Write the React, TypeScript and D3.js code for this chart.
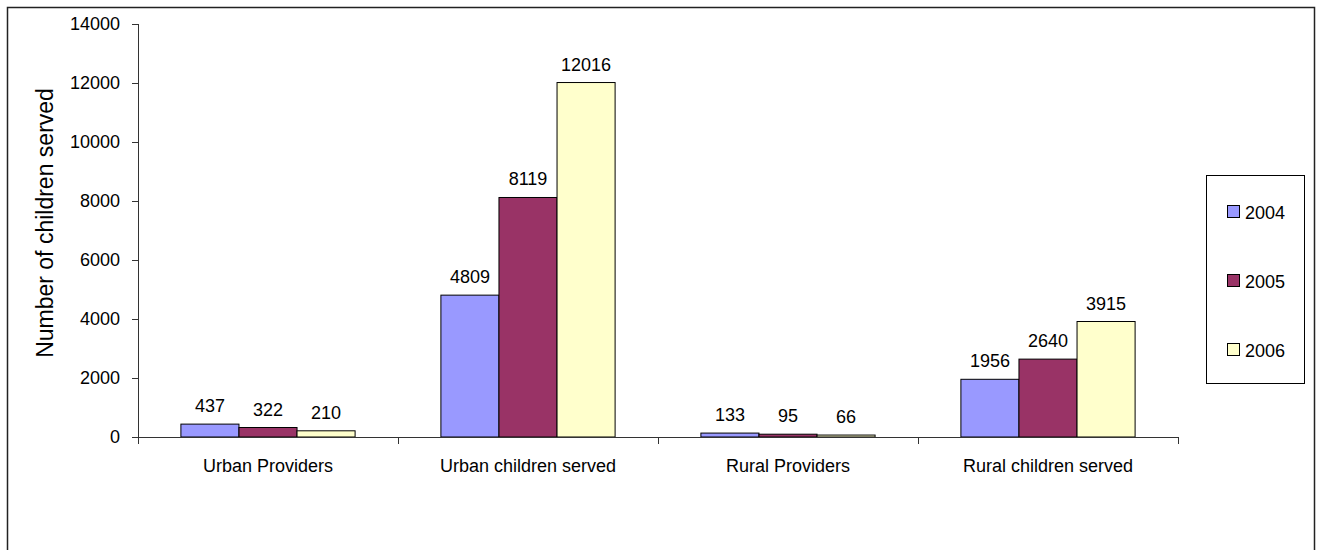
import React from "react";
import * as d3 from "d3";

const categories = ["Urban Providers", "Urban children served", "Rural Providers", "Rural children served"];
const years = ["2004", "2005", "2006"];
const values2004 = [437, 4809, 133, 1956];
const values2005 = [322, 8119, 95, 2640];
const values2006 = [210, 12016, 66, 3915];
const yTicks = [0, 2000, 4000, 6000, 8000, 10000, 12000, 14000];
const yearColors = ["#9999FF", "#993366", "#FFFFCC"];

const seriesValues = [values2004, values2005, values2006];

const W = 1320;
const H = 550;
const plot = { left: 138, right: 1178, top: 24, bottom: 437 };
const FONT = "'Liberation Sans', Arial, sans-serif";

export default function App() {
  const x0 = d3.scaleBand<string>().domain(categories).range([plot.left, plot.right]).paddingInner(0).paddingOuter(0);
  const groupW = x0.bandwidth() * 0.67;
  const x1 = d3.scaleBand<string>().domain(years).range([0, groupW]).padding(0);
  const y = d3.scaleLinear().domain([0, 14000]).range([plot.bottom, plot.top]);

  const catTicks = [...categories.map((c) => x0(c) as number), plot.right];

  return (
    <svg
      width={W}
      height={H}
      style={{ position: "absolute", left: 0, top: 0, background: "#fff" }}
      fontFamily={FONT}
    >
      <rect x={0} y={0} width={W} height={H} fill="#fff" />
      {/* chart frame */}
      <rect x={7.5} y={7.5} width={1307} height={560} fill="none" stroke="#222" strokeWidth={1.5} />

      {/* y axis */}
      <line x1={plot.left + 0.5} x2={plot.left + 0.5} y1={plot.top} y2={plot.bottom} stroke="#333" />
      {yTicks.map((t) => (
        <g key={t}>
          <line x1={plot.left - 6} x2={plot.left} y1={Math.round(y(t)) + 0.5} y2={Math.round(y(t)) + 0.5} stroke="#333" />
          <text x={120} y={y(t) + 6} textAnchor="end" fontSize={18} fill="#000">
            {t}
          </text>
        </g>
      ))}
      <text
        transform={`translate(53,223) rotate(-90)`}
        textAnchor="middle"
        fontSize={23}
        fill="#000"
      >
        Number of children served
      </text>

      {/* bars */}
      {categories.map((c, ci) => {
        const gx = (x0(c) as number) + (x0.bandwidth() - groupW) / 2;
        return (
          <g key={c}>
            {years.map((yr, si) => {
              const v = seriesValues[si][ci];
              const bx = gx + (x1(yr) as number);
              return (
                <g key={yr}>
                  <rect
                    x={bx}
                    y={y(v)}
                    width={x1.bandwidth()}
                    height={plot.bottom - y(v)}
                    fill={yearColors[si]}
                    stroke="#000"
                    strokeWidth={1}
                  />
                  <text x={bx + x1.bandwidth() / 2} y={y(v) - 12} textAnchor="middle" fontSize={18} fill="#000">
                    {v}
                  </text>
                </g>
              );
            })}
          </g>
        );
      })}

      {/* x axis */}
      <line x1={plot.left} x2={plot.right} y1={plot.bottom + 0.5} y2={plot.bottom + 0.5} stroke="#333" />
      {catTicks.map((tx, i) => (
        <line key={i} x1={tx + 0.5} x2={tx + 0.5} y1={plot.bottom} y2={plot.bottom + 7} stroke="#333" />
      ))}
      {categories.map((c) => (
        <text
          key={c}
          x={(x0(c) as number) + x0.bandwidth() / 2}
          y={472}
          textAnchor="middle"
          fontSize={18}
          fill="#000"
        >
          {c}
        </text>
      ))}

      {/* legend */}
      <rect x={1206.5} y={175.5} width={98} height={208} fill="#fff" stroke="#000" strokeWidth={1} />
      {years.map((yr, i) => {
        const cy = 212 + i * 69;
        return (
          <g key={yr}>
            <rect x={1227.5} y={cy - 6.5} width={12} height={12} fill={yearColors[i]} stroke="#000" strokeWidth={1} />
            <text x={1245} y={cy + 6.5} fontSize={18} fill="#000">
              {yr}
            </text>
          </g>
        );
      })}
    </svg>
  );
}
